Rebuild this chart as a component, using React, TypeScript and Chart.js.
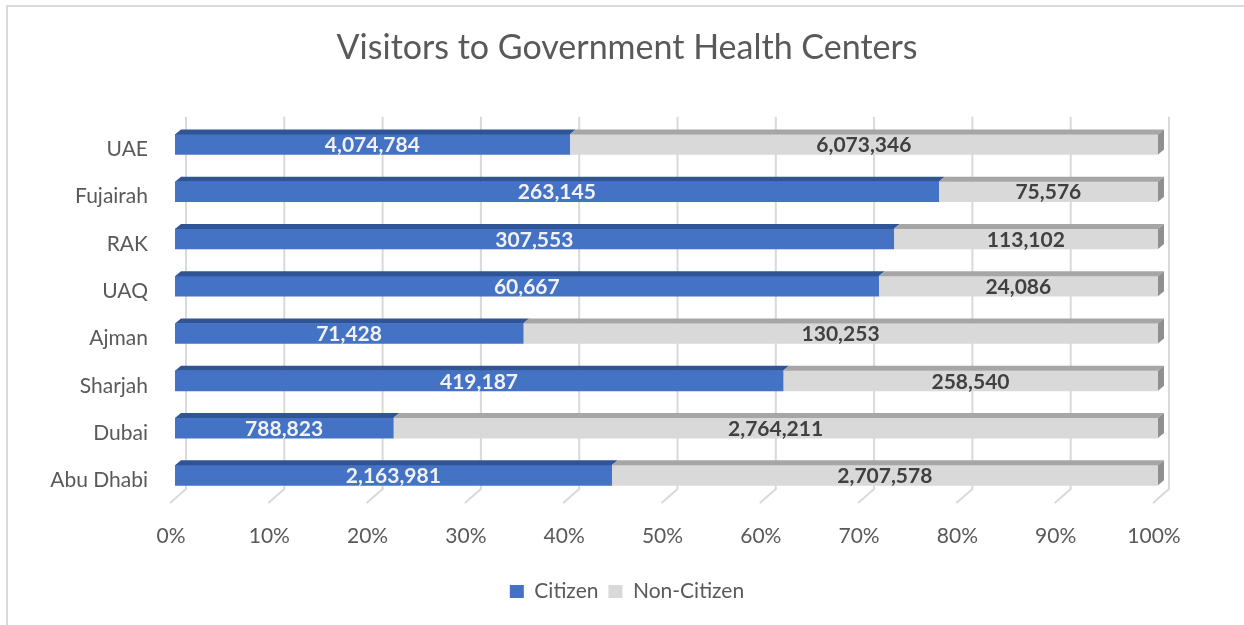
import React, { useEffect, useRef } from "react";
import { Chart, registerables } from "chart.js";

Chart.register(...registerables);

const chartTitle = "Visitors to Government Health Centers";
const categories = ["UAE", "Fujairah", "RAK", "UAQ", "Ajman", "Sharjah", "Dubai", "Abu Dhabi"];
const citizen = [4074784, 263145, 307553, 60667, 71428, 419187, 788823, 2163981];
const nonCitizen = [6073346, 75576, 113102, 24086, 130253, 258540, 2764211, 2707578];
const seriesNames = ["Citizen", "Non-Citizen"];
const xTickValues = [0, 10, 20, 30, 40, 50, 60, 70, 80, 90, 100];

const FONT = "Lato, 'Noto Sans', sans-serif";
const TEXT = "#595959";
const FRONT = ["#4472c4", "#d9d9d9"];
const TOPC = ["#2f5597", "#a6a6a6"];
const SIDE = "#8f8f8f";
const LABEL_COLORS = ["#f2f2f2", "#404040"];
const DX = 6;
const DY = 5;

const totals = citizen.map((v, i) => v + nonCitizen[i]);
const citizenPct = citizen.map((v, i) => (v / totals[i]) * 100);
const nonCitizenPct = nonCitizen.map((v, i) => (v / totals[i]) * 100);
const rawValues = [citizen, nonCitizen];

const fmt = (n: number) => n.toLocaleString("en-US");

const bar3d = {
  id: "bar3d",
  beforeDatasetsDraw(chart: any) {
    const ctx = chart.ctx;
    const xs = chart.scales.x;
    const area = chart.chartArea;
    ctx.save();
    ctx.strokeStyle = "#d9d9d9";
    ctx.lineWidth = 2;
    xTickValues.forEach((v) => {
      const px = xs.getPixelForValue(v);
      const bx = px + 11;
      ctx.beginPath();
      ctx.moveTo(bx, area.top - 4);
      ctx.lineTo(bx, area.bottom - 10);
      ctx.lineTo(bx - 16, area.bottom + 4);
      ctx.stroke();
    });
    ctx.restore();
  },
  afterDatasetsDraw(chart: any) {
    const ctx = chart.ctx;
    const n = chart.data.datasets.length;
    ctx.save();
    chart.data.datasets.forEach((ds: any, di: number) => {
      const meta = chart.getDatasetMeta(di);
      meta.data.forEach((el: any) => {
        const p = el.getProps(["x", "y", "base", "height"], true);
        const left = Math.min(p.x, p.base);
        const right = Math.max(p.x, p.base);
        const top = p.y - p.height / 2;
        const bottom = p.y + p.height / 2;
        ctx.fillStyle = TOPC[di];
        ctx.beginPath();
        ctx.moveTo(left, top);
        ctx.lineTo(left + DX, top - DY);
        ctx.lineTo(right + DX, top - DY);
        ctx.lineTo(right, top);
        ctx.closePath();
        ctx.fill();
        if (di === n - 1) {
          ctx.fillStyle = SIDE;
          ctx.beginPath();
          ctx.moveTo(right, top);
          ctx.lineTo(right + DX, top - DY);
          ctx.lineTo(right + DX, bottom - DY);
          ctx.lineTo(right, bottom);
          ctx.closePath();
          ctx.fill();
        }
      });
    });
    ctx.font = `bold 21px ${FONT}`;
    ctx.textAlign = "center";
    ctx.textBaseline = "middle";
    chart.data.datasets.forEach((ds: any, di: number) => {
      const meta = chart.getDatasetMeta(di);
      meta.data.forEach((el: any, i: number) => {
        const p = el.getProps(["x", "y", "base"], true);
        ctx.fillStyle = LABEL_COLORS[di];
        ctx.fillText(fmt(rawValues[di][i]), (p.x + p.base) / 2, p.y + 1);
      });
    });
    ctx.restore();
  },
};

export default function App() {
  const ref = useRef<HTMLCanvasElement>(null);
  useEffect(() => {
    if (!ref.current) return;
    Chart.defaults.font.family = FONT;
    const chart = new Chart(ref.current, {
      type: "bar",
      data: {
        labels: categories,
        datasets: [
          { label: seriesNames[0], data: citizenPct, backgroundColor: FRONT[0], borderWidth: 0, barThickness: 20 },
          { label: seriesNames[1], data: nonCitizenPct, backgroundColor: FRONT[1], borderWidth: 0, barThickness: 20 },
        ],
      },
      options: {
        indexAxis: "y",
        responsive: true,
        maintainAspectRatio: false,
        animation: false,
        layout: { padding: { left: 0, right: 0, top: 0, bottom: 13 } },
        plugins: {
          title: {
            display: true,
            text: chartTitle,
            color: TEXT,
            font: { family: FONT, size: 34, weight: "normal" },
            padding: { top: 28, bottom: 52 },
          },
          legend: {
            position: "bottom",
            labels: {
              boxWidth: 14,
              boxHeight: 13,
              color: TEXT,
              font: { family: FONT, size: 21 },
              padding: 10,
            },
          },
          tooltip: { enabled: false },
        },
        scales: {
          x: {
            stacked: true,
            min: 0,
            max: 100,
            afterBuildTicks(s: any) {
              s.ticks = xTickValues.map((v) => ({ value: v }));
            },
            ticks: {
              callback: (v: any) => `${v}%`,
              color: TEXT,
              font: { family: FONT, size: 21 },
              padding: 17,
              labelOffset: -4,
              maxRotation: 0,
            },
            grid: { display: false },
            border: { display: false },
            afterFit(s: any) {
              s.height = 72;
            },
          },
          y: {
            stacked: true,
            ticks: {
              color: TEXT,
              font: { family: FONT, size: 21 },
              padding: 19,
              labelOffset: 5,
            },
            grid: { display: false },
            border: { display: false },
            afterFit(s: any) {
              s.width = 175;
            },
          },
          spacer: {
            type: "linear",
            position: "right",
            display: true,
            ticks: { display: false },
            grid: { display: false },
            border: { display: false },
            afterFit(s: any) {
              s.width = 96;
            },
          },
        },
      },
      plugins: [bar3d],
    });
    return () => chart.destroy();
  }, []);

  return (
    <div style={{ position: "fixed", left: 0, top: 0, width: 1244, height: 625, background: "#ffffff", overflow: "hidden" }}>
      <div
        style={{
          position: "absolute",
          left: 6,
          top: 5,
          width: 1300,
          height: 700,
          borderLeft: "2px solid #d9d9d9",
          borderTop: "2px solid #d9d9d9",
        }}
      />
      <div style={{ position: "absolute", left: 0, top: 0, width: 1254, height: 625 }}>
        <canvas ref={ref} />
      </div>
    </div>
  );
}
